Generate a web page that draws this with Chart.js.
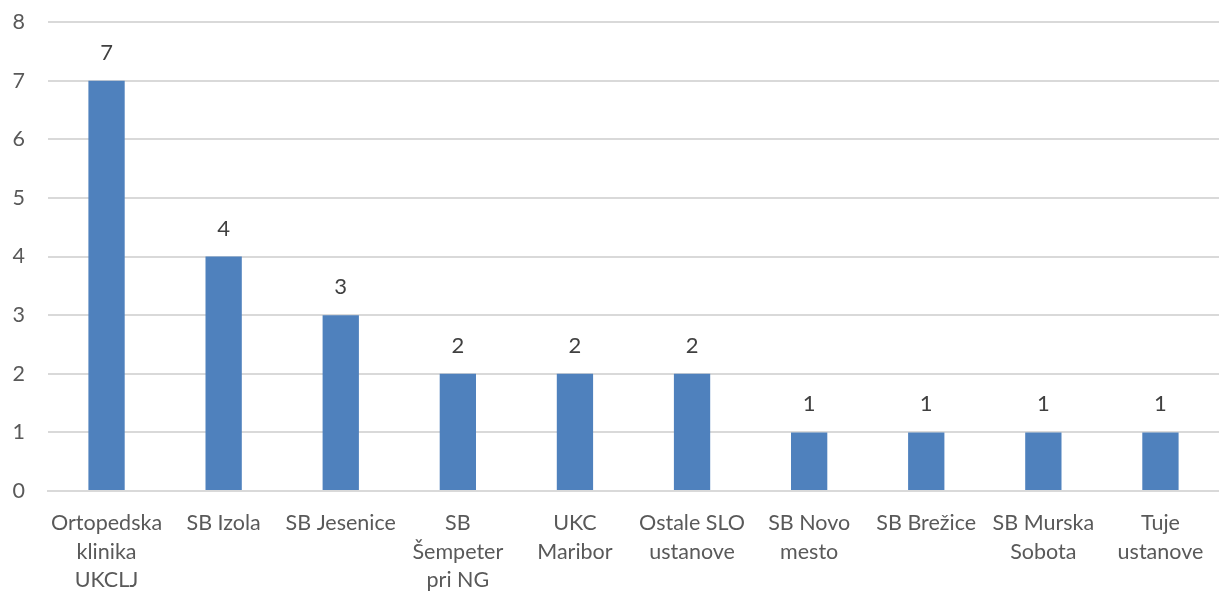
<!DOCTYPE html>
<html>
<head>
<meta charset="utf-8">
<script src="https://cdn.jsdelivr.net/npm/chart.js@4/dist/chart.umd.min.js"></script>
<style>
  html, body { margin: 0; padding: 0; background: #fff; }
  #wrap { width: 1219px; height: 593px; }
</style>
</head>
<body>
<div id="wrap"><canvas id="chart"></canvas></div>
<script>
// chart data
var categories = [
  ["Ortopedska", "klinika", "UKCLJ"],
  "SB Izola",
  "SB Jesenice",
  ["SB", "Šempeter", "pri NG"],
  ["UKC", "Maribor"],
  ["Ostale SLO", "ustanove"],
  ["SB Novo", "mesto"],
  "SB Brežice",
  ["SB Murska", "Sobota"],
  ["Tuje", "ustanove"]
];
var values = [7, 4, 3, 2, 2, 2, 1, 1, 1, 1];
var yTicks = [0, 1, 2, 3, 4, 5, 6, 7, 8];

var fontFam = 'Lato, "Open Sans", sans-serif';

// value labels above the bars
var barLabels = {
  id: 'barLabels',
  afterDatasetsDraw: function(chart) {
    var ctx = chart.ctx;
    var meta = chart.getDatasetMeta(0);
    ctx.save();
    ctx.fillStyle = '#404040';
    ctx.font = '22px ' + fontFam;
    ctx.textAlign = 'center';
    ctx.textBaseline = 'middle';
    meta.data.forEach(function(bar, i) {
      ctx.fillText(values[i], bar.x, bar.y - 28);
    });
    ctx.restore();
  }
};

var ctx = document.getElementById("chart").getContext("2d");
var myChart = new Chart(ctx, {
  type: 'bar',
  data: {
    labels: categories,
    datasets: [{
      data: values,
      backgroundColor: '#4f81bd',
      borderWidth: 0,
      categoryPercentage: 1,
      barPercentage: 0.31
    }]
  },
  options: {
    animation: false,
    responsive: true,
    maintainAspectRatio: false,
    layout: { padding: { left: 12, right: 0, top: 0, bottom: 0 } },
    scales: {
      x: {
        grid: { display: false },
        border: { color: '#d9d9d9', width: 2 },
        afterFit: function(axis) { axis.height = 102; },
        ticks: {
          color: '#595959',
          font: { family: fontFam, size: 21.5, lineHeight: 1.33 },
          maxRotation: 0,
          autoSkip: false,
          padding: 10
        }
      },
      y: {
        min: 0,
        max: 8,
        afterBuildTicks: function(axis) {
          axis.ticks = yTicks.map(function(v) { return { value: v }; });
        },
        afterFit: function(axis) {
          axis.width = 36;
          axis.paddingTop = 22;
          axis.paddingBottom = 0;
        },
        grid: { color: '#d9d9d9', lineWidth: 2, drawTicks: false },
        border: { display: false },
        ticks: {
          color: '#595959',
          font: { family: fontFam, size: 21.5 },
          padding: 23
        }
      }
    },
    plugins: {
      legend: { display: false },
      tooltip: { enabled: false }
    }
  },
  plugins: [barLabels]
});
</script>
</body>
</html>
